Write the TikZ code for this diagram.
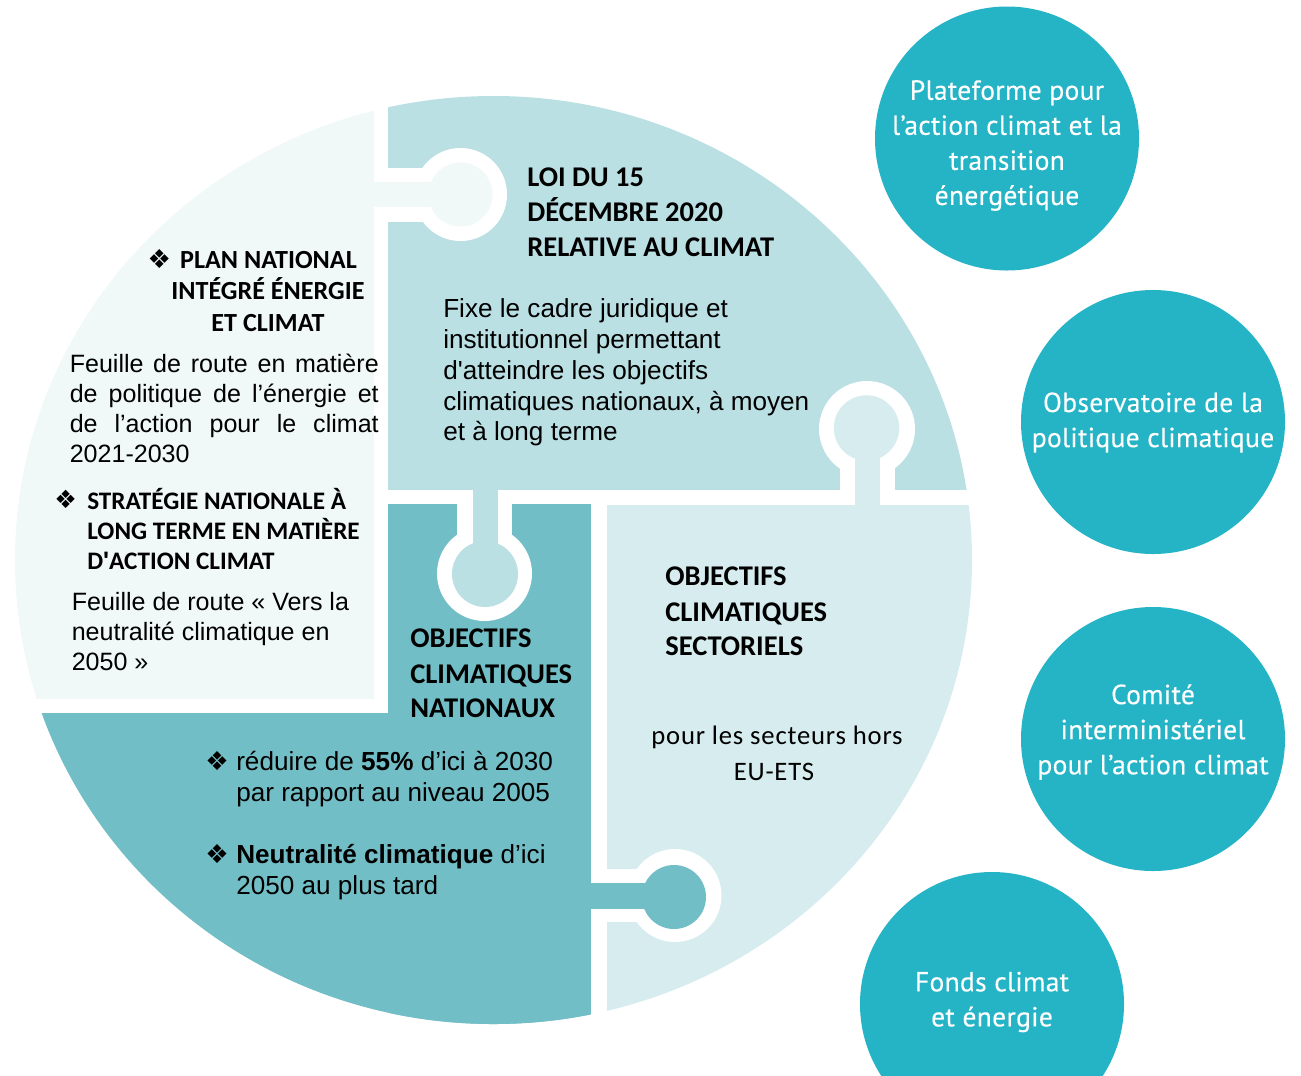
\documentclass[tikz,border=0pt]{standalone}
\usepackage{fontspec}
\setmainfont{Liberation Sans}
\newfontfamily\plainf{Liberation Sans}
\newfontfamily\headf{Carlito}
\newfontfamily\circf{PT Sans}[LetterSpace=1.0,FakeBold=0.25]
\newfontfamily\lowf{Carlito}[LetterSpace=3.0]
\newfontfamily\symf{DejaVu Sans}
\definecolor{pA}{HTML}{F0F8F8}
\definecolor{pB}{HTML}{BAE0E4}
\definecolor{pC}{HTML}{72BEC6}
\definecolor{pD}{HTML}{D6ECEF}
\definecolor{teal}{HTML}{25B3C6}
\newcommand{\bul}{{\symf\mdseries\char"2756}}
\newcommand{\apo}{{\plainf\char39}}
\newcommand{\jline}[1]{\makebox[231.75pt][s]{#1}}
\tikzset{x=0.75pt,y=-0.75pt,
 head/.style={inner sep=0,align=left,anchor=north west,font=\headf\bfseries\fontsize{21.4}{25.9}\selectfont},
 headsm/.style={head,font=\headf\bfseries\fontsize{18.9}{22.6}\selectfont},
 headmd/.style={head,anchor=north,align=center,font=\headf\bfseries\fontsize{19.6}{24.1}\selectfont},
 body/.style={inner sep=0,align=left,anchor=north west,font=\fontsize{19.6}{23.2}\selectfont},
 bodysm/.style={body,font=\fontsize{18.8}{22.5}\selectfont},
 bubble/.style={circle,fill=teal,draw=none,minimum size=264*0.75pt,inner sep=0},
 bubtxt/.style={inner sep=0,align=center,text=white,font=\circf\fontsize{20.7}{26.3}\selectfont},
 gap/.style={fill=white,draw=none}}
\begin{document}
\begin{tikzpicture}
\useasboundingbox (0,0) rectangle (1301,1075);
\begin{scope}
 \clip (0,0) rectangle (1301,1075);
 \node[bubble] (c1) at (1007,138.5) {};
 \node[bubble] (c2) at (1153,422) {};
 \node[bubble] (c3) at (1153,739) {};
 \node[bubble] (c4) at (992,1004) {};
\end{scope}
\begin{scope}
 \clip (493.5,560) ellipse [x radius=478.5,y radius=464];
 \fill[pA] (0,0) rectangle (374,699);
 \fill[pB] (388,0) rectangle (1000,490);
 \fill[pC] (388,504) rectangle (591,1100);
 \fill[pC] (0,713) rectangle (591,1100);
 \fill[pD] (607,505) rectangle (1000,1100);
 \fill[gap] (374,168) rectangle (445,222);
 \fill[gap] (460.5,194.5) circle [radius=46.5];
 \fill[pA] (374,182) rectangle (445,207);
 \fill[pA] (460.5,194.5) circle [radius=32];
 \fill[gap] (457,504) rectangle (512,550);
 \fill[gap] (484.5,573.5) circle [radius=47.5];
 \fill[pB] (473,490) rectangle (498,555);
 \fill[pB] (485,574) circle [radius=33];
 \fill[gap] (840,490) rectangle (895,450);
 \fill[gap] (867,429) circle [radius=48];
 \fill[pD] (855,505) rectangle (880,450);
 \fill[pD] (866.5,428) circle [radius=32.7];
 \fill[gap] (607,869) rectangle (650,922);
 \fill[gap] (675,895.5) circle [radius=46.5];
 \fill[pC] (591,883) rectangle (650,909);
 \fill[pC] (674,897) circle [radius=32];
\end{scope}
\node[bubtxt] (t1) at (1007,145.5) {Plateforme pour\\l’action climat et la\\transition\\énergétique};
\node[bubtxt] (t2) at (1153,422.5) {Observatoire de la\\politique climatique};
\node[bubtxt] (t3) at (1153,732) {Comité\\interministériel\\pour l’action climat};
\node[bubtxt] (t4) at (992,1002) {Fonds climat\\et énergie};
\node[head] (h1) at (527,168) {LOI DU 15\\DÉCEMBRE 2020\\RELATIVE AU CLIMAT};
\node[body] (b1) at (443,298) {Fixe le cadre juridique et\\institutionnel permettant\\d\apo atteindre les objectifs\\climatiques nationaux, à moyen\\et à long terme};
\node[headmd] (h2a) at (268.5,249) {\llap{\bul\hspace{0.35em}}PLAN NATIONAL};
\node[headmd] (h2) at (268,277) {INTÉGRÉ ÉNERGIE\\ET CLIMAT};
\node[bodysm] (b2) at (69.5,353.5) {\jline{Feuille de route en matière}\\\jline{de politique de l’énergie et}\\\jline{de l’action pour le climat}\\2021-2030};
\node[headsm] (h3b) at (54,490) {\bul};
\node[headsm] (h3) at (87,488) {STRATÉGIE NATIONALE À\\LONG TERME EN MATIÈRE\\D\apo ACTION CLIMAT};
\node[bodysm] (b3) at (71.5,592.5) {Feuille de route « Vers la\\neutralité climatique en\\2050 »};
\node[head] (h4) at (410,629) {OBJECTIFS\\[0.7pt]CLIMATIQUES\\[-0.7pt]NATIONAUX};
\node[body] (b4b) at (205,751) {\bul};
\node[body] (b4) at (236,751) {réduire de \textbf{55\%} d’ici à 2030\\par rapport au niveau 2005};
\node[body] (b5b) at (205,844) {\bul};
\node[body] (b5) at (236,844) {\textbf{Neutralité climatique} d’ici\\2050 au plus tard};
\node[head] (h5) at (665,567) {OBJECTIFS\\[0.7pt]CLIMATIQUES\\[-0.7pt]SECTORIELS};
\node[bubtxt,text=black,font=\lowf\fontsize{20}{27}\selectfont] (b6) at (777,753) {pour les secteurs hors\\EU-ETS\hspace*{4.5pt}};
\end{tikzpicture}
\end{document}
